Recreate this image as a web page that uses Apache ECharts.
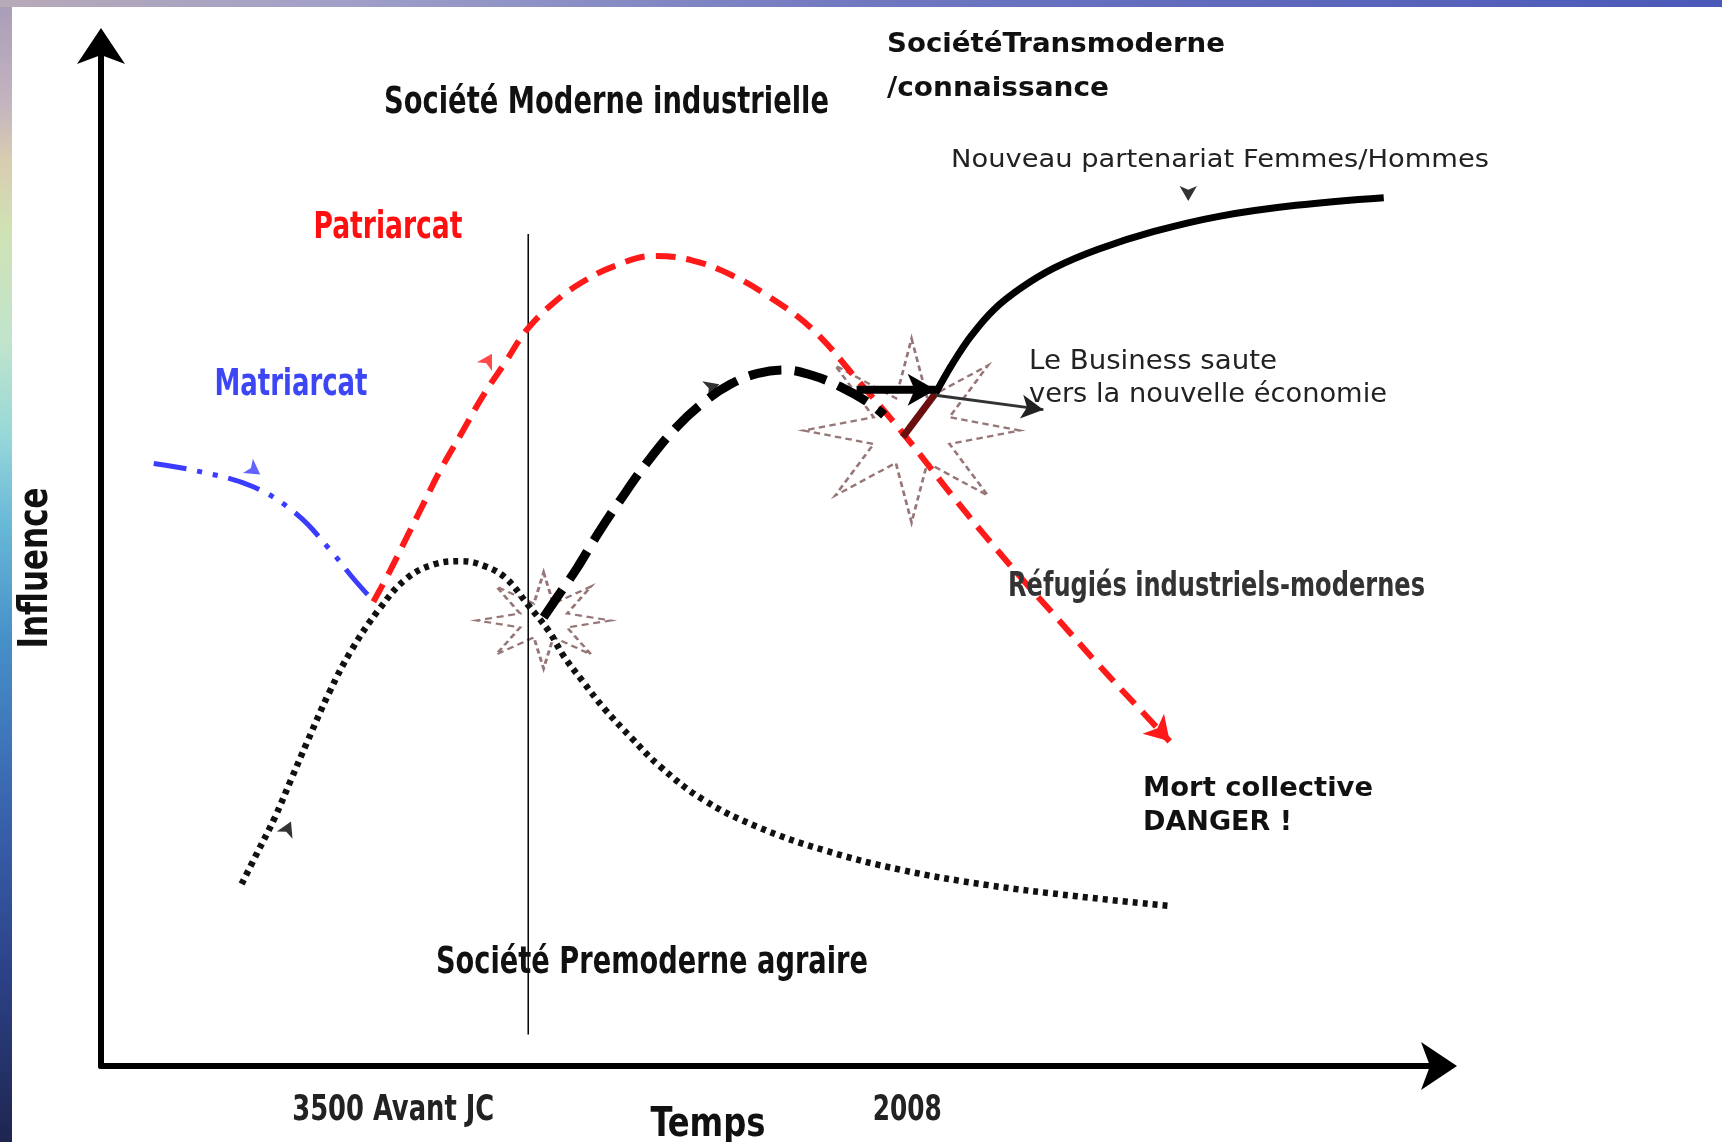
<!DOCTYPE html>
<html><head><meta charset="utf-8">
<script src="https://cdn.jsdelivr.net/npm/echarts@6/dist/echarts.min.js"></script>
<style>html,body{margin:0;padding:0;background:#fff;overflow:hidden}#c{width:1722px;height:1142px}</style>
</head><body><div id="c"></div>
<script>
// ---- data (x: temps, y: influence, arbitrary 0-100 units) ----
const matriarcat = [[3.94,59.07],[7.23,58.32],[11.33,56.81],[14.61,54.12],[17.08,50.67],[18.88,47.77],[20.19,45.83]];
const premoderne = [[10.51,17.84],[11.74,21.07],[12.97,24.30],[14.20,28.06],[15.43,31.83],[17.08,36.68],[18.72,40.77],[20.77,44.75],[22.82,47.77],[24.87,49.17],[26.92,49.49],[28.57,49.06],[30.21,47.88],[31.93,45.18],[33.49,42.60],[34.56,40.23],[36.04,37.65],[37.60,35.06],[39.65,32.16],[41.70,29.46],[44.98,26.13],[49.09,23.43],[54.01,21.17],[59.76,19.24],[66.32,17.73],[72.89,16.65],[79.87,15.68]];
const patriarcat = [[20.36,45.51],[21.59,48.52],[22.82,51.75],[24.05,54.98],[25.28,58.21],[26.92,61.98],[28.57,65.75],[30.21,68.98],[31.85,72.21],[33.90,74.90],[35.95,76.84],[38.42,78.45],[41.29,79.42],[44.16,78.99],[47.03,77.59],[49.91,75.44],[53.19,72.21],[56.47,67.36],[60.17,61.66],[63.86,55.52],[67.97,49.06],[71.25,44.21],[74.53,39.37],[77.81,34.74],[79.87,31.83]];
const moderne = [[33.08,44.00],[34.31,46.37],[35.54,48.74],[37.19,52.29],[38.83,55.52],[40.88,59.29],[42.93,62.52],[44.98,65.00],[47.03,66.83],[49.09,67.90],[51.14,68.23],[53.19,67.69],[55.24,66.61],[57.29,65.10],[58.53,63.81]];
const transmodDebut = [[59.92,61.66],[62.38,65.96]];
const transmoderne = [[62.38,65.96],[63.70,68.98],[65.09,71.67],[66.73,74.15],[68.79,76.30],[71.25,78.24],[74.53,80.07],[78.64,81.79],[83.56,83.30],[89.31,84.38],[95.87,85.13]];
const businessSaut = [[56.47,66.29],[62.38,66.29]];
const businessVers = [[62.38,65.75],[70.43,64.35]];
const frontiere = [[31.93,3.08],[31.93,81.58]];
const explosionCentres = [[60.58,62.30],[33.08,43.68]];
const flowMarkPoints = [[11.90,58.00],[29.22,69.84],[46.21,66.83],[14.20,23.97],[81.26,84.81]];
const flowMarkAngles = [-125,-30,-70,-25,180];
const tickValues = [21.84, 60.25];
const tickLabels = ['3500 Avant JC', '2008'];

// ---- styles ----
const NARROW = "'Liberation Sans Narrow','Arial Narrow','DejaVu Sans Condensed',sans-serif";
const DEJA = "'DejaVu Sans',Verdana,sans-serif";

function starPath(n, inner){
  let d = '';
  for (let i = 0; i < 2*n; i++){
    const r = (i % 2) ? inner : 50;
    const a = -Math.PI/2 + i*Math.PI/n;
    const x = (50 + r*Math.cos(a)).toFixed(2), y = (50 + r*Math.sin(a)).toFixed(2);
    d += (i ? ' L ' : 'M ') + x + ' ' + y;
  }
  return 'path://' + d + ' Z';
}
const explosionSizes = [[216,184],[134,96]];

const mctx = document.createElement('canvas').getContext('2d');
let gid = 0;
function txt(text, x, y, font, fill, align, width, extra){
  let sx = 1;
  if (width){ mctx.font = font; sx = width / mctx.measureText(text).width; }
  return Object.assign({type:'text', id:'t'+(gid++), x:x, y:y, z:50, scaleX:sx,
    style:{text:text, x:0, y:0, font:font, fill:fill, align:align||'left', verticalAlign:'middle'}}, extra||{});
}

const graphics = [
  {type:'rect', id:'bgL', shape:{x:0,y:0,width:12,height:1142}, z:-10, silent:true,
    style:{fill:new echarts.graphic.LinearGradient(0,0,0,1,[
      {offset:0,color:'#a89cb8'},{offset:0.09,color:'#c4b4c0'},{offset:0.14,color:'#d8ccb0'},
      {offset:0.2,color:'#d0e2b4'},{offset:0.3,color:'#c0e4cc'},{offset:0.38,color:'#98d8d8'},
      {offset:0.46,color:'#68b8d8'},{offset:0.56,color:'#4690c8'},{offset:0.7,color:'#3a66b0'},
      {offset:0.85,color:'#2c4288'},{offset:1,color:'#1e2650'}])}},
  {type:'rect', id:'bgT', shape:{x:0,y:0,width:1722,height:7}, z:-10, silent:true,
    style:{fill:new echarts.graphic.LinearGradient(0,0,1,0,[
      {offset:0,color:'#b8aab8'},{offset:0.2,color:'#a0a0c8'},{offset:0.5,color:'#7078c0'},{offset:1,color:'#4a58b8'}])}},
  txt('Société Moderne industrielle', 384, 103, 'bold 38px '+NARROW, '#111', 'left', 445),
  txt('SociétéTransmoderne', 887, 45, 'bold 27px '+DEJA, '#111', 'left', 338),
  txt('/connaissance', 887, 89, 'bold 27px '+DEJA, '#111', 'left', 222),
  txt('Nouveau partenariat Femmes/Hommes', 951, 160, '25px '+DEJA, '#222', 'left', 538),
  txt('Patriarcat', 388, 228, 'bold 37px '+NARROW, '#ff1010', 'center', 149),
  txt('Matriarcat', 291, 385, 'bold 38px '+NARROW, '#3d46f5', 'center', 153),
  txt('Le Business saute', 1029, 362, '27px '+DEJA, '#222', 'left', 248),
  txt('vers la nouvelle économie', 1029, 395, '27px '+DEJA, '#222', 'left', 358),
  txt('Réfugiés industriels-modernes', 1008, 587, 'bold 34px '+NARROW, '#333', 'left', 417),
  txt('Mort collective', 1143, 789, 'bold 27px '+DEJA, '#111', 'left', 230),
  txt('DANGER !', 1143, 823, 'bold 27px '+DEJA, '#111'),
  txt('Société Premoderne agraire', 436, 963, 'bold 38px '+NARROW, '#111', 'left', 432),
  txt('Temps', 708, 1126, 'bold 40px '+NARROW, '#111', 'center', 115),
  txt('Influence', 37, 568, 'bold 40px '+NARROW, '#111', 'center', 161, {rotation:Math.PI/2})
];

const chart = echarts.init(document.getElementById('c'), null, {renderer:'canvas'});
const axisCommon = {type:'value', min:0, max:100, axisTick:{show:false}, axisLabel:{show:false}, splitLine:{show:false},
  axisLine:{onZero:false, symbol:['none','arrow'], symbolSize:[36,36], symbolOffset:[0,18], lineStyle:{color:'#000', width:6}}};
chart.setOption({
  backgroundColor:'#ffffff',
  animation:false,
  grid:{left:101, top:46, right:283, bottom:76},
  xAxis:axisCommon,
  yAxis:axisCommon,
  graphic:graphics,
  series:[
    {type:'scatter', name:'explosions', z:1, silent:true,
      data:explosionCentres.map((p,i)=>({value:p, symbolSize:explosionSizes[i]})),
      symbol:starPath(8, 19),
      itemStyle:{color:'rgba(0,0,0,0)', borderColor:'#7c5454', borderWidth:2.5, borderType:[6,4]}},
    {type:'line', name:'Matriarcat', data:matriarcat, smooth:0.4, showSymbol:false, z:3,
      lineStyle:{color:'#3c3cff', width:5, type:[33,11,5,11,5,11]}},
    {type:'line', name:'Premoderne', data:premoderne, smooth:0.4, showSymbol:false, z:3,
      lineStyle:{color:'#111', width:6.5, type:[5,5]}},
    {type:'line', name:'Patriarcat', smooth:0.4, z:4, showSymbol:true, symbol:'none',
      data:patriarcat.map((p,i)=> i===patriarcat.length-1 ? {value:p, symbol:'arrow', symbolSize:[22,24], symbolRotate:-137} : {value:p}),
      itemStyle:{color:'#ff1a1a'},
      lineStyle:{color:'#ff1a1a', width:6, type:[20,11]}},
    {type:'line', name:'Moderne', data:moderne, smooth:0.4, showSymbol:false, z:4,
      lineStyle:{color:'#000', width:9, type:[33,13]}},
    {type:'line', name:'Transition', data:transmodDebut, showSymbol:false, z:5,
      lineStyle:{color:'#6a0e0e', width:7}},
    {type:'line', name:'Transmoderne', data:transmoderne, smooth:0.4, showSymbol:false, z:5,
      lineStyle:{color:'#000', width:7}},
    {type:'line', name:'Saut', z:6, showSymbol:true, symbol:'none',
      data:businessSaut.map((p,i)=> i===1 ? {value:p, symbol:'arrow', symbolSize:[24,28], symbolRotate:-90} : {value:p}),
      itemStyle:{color:'#000'}, lineStyle:{color:'#000', width:8}},
    {type:'line', name:'Vers', z:6, showSymbol:true, symbol:'none',
      data:businessVers.map((p,i)=> i===1 ? {value:p, symbol:'arrow', symbolSize:[18,22], symbolRotate:-98} : {value:p}),
      itemStyle:{color:'#222'}, lineStyle:{color:'#333', width:3}},
    {type:'line', name:'Frontiere', data:frontiere, showSymbol:false, z:2,
      lineStyle:{color:'#000', width:1.5}},
    {type:'scatter', name:'flux', z:6, symbol:'arrow', symbolSize:[13,15],
      data:flowMarkPoints.map((p,i)=>({value:p, symbolRotate:flowMarkAngles[i],
        itemStyle:{color: i===0 ? '#3c3cff' : (i===1 ? '#ff1a1a' : '#000')}}))}
  ]
});

// tick labels placed through the x scale
const tickWidths = [202, 69];
const tickEls = tickValues.map((v,i)=>{
  const px = chart.convertToPixel({gridIndex:0}, [v, 0]);
  return txt(tickLabels[i], px[0], 1111, 'bold 36px '+NARROW, '#222', 'center', tickWidths[i]);
});
chart.setOption({graphic: graphics.concat(tickEls)});
</script></body></html>
